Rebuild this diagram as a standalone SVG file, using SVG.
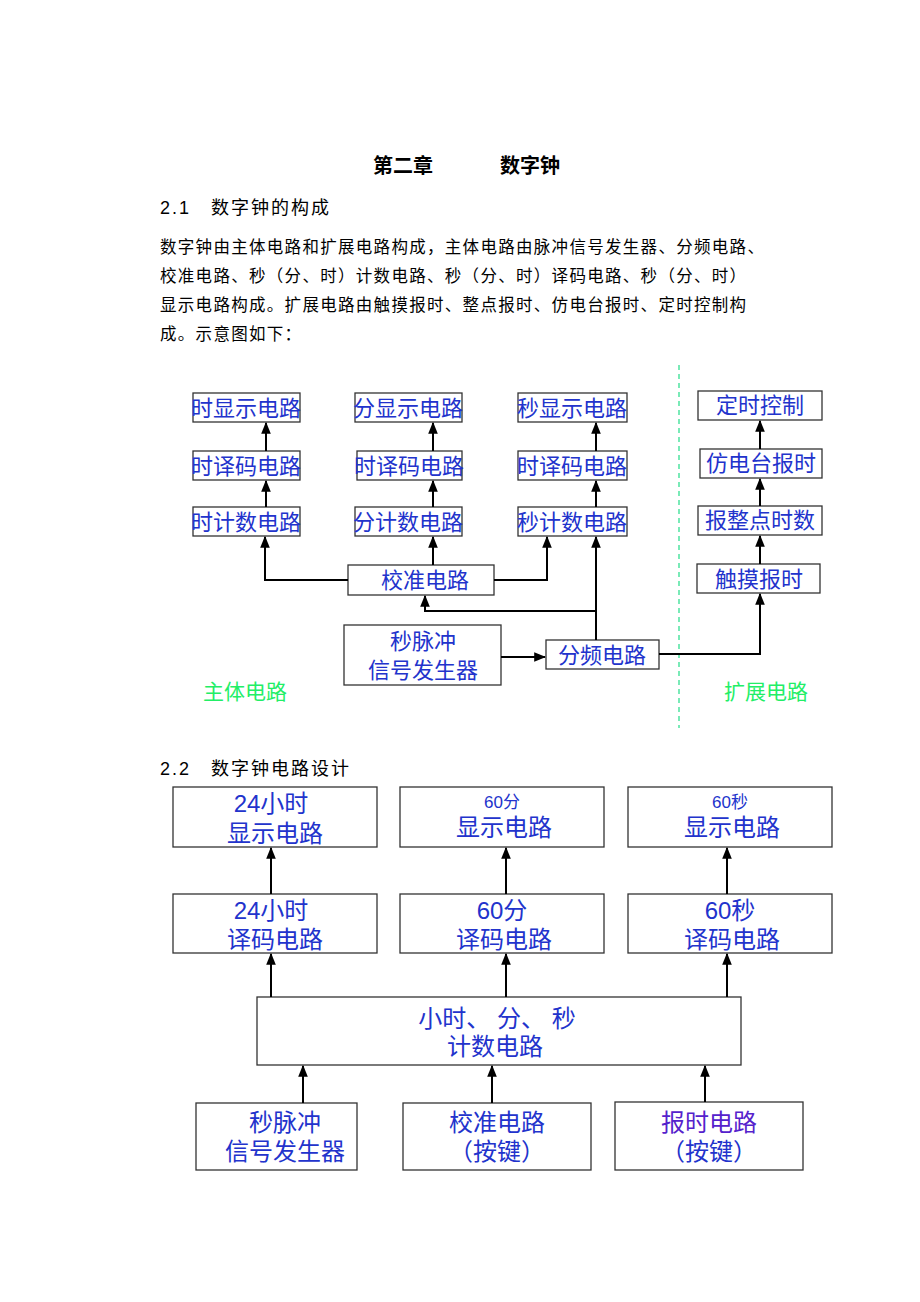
<svg xmlns="http://www.w3.org/2000/svg" width="920" height="1302" viewBox="0 0 920 1302">
<defs>
<marker id="ah" viewBox="0 0 10 10" refX="9" refY="5" markerWidth="6" markerHeight="6" orient="auto"><path d="M0,1 L10,5 L0,9 z" fill="#000"/></marker>
<style>
text{font-family:"Liberation Sans","Noto Sans CJK SC",sans-serif}
.h{font-size:20px;font-weight:bold;fill:#000}
.s{font-size:18px;fill:#000;letter-spacing:2px}
.p{font-size:16.5px;fill:#000;letter-spacing:1.3px}
.b{fill:#fff;stroke:#333;stroke-width:1.3}
.t{font-size:22px;fill:#2233cc;text-anchor:middle}
.t2{font-size:24px;fill:#2233cc;text-anchor:middle}
.sm{font-size:17px;fill:#2233cc;text-anchor:middle}
.g{font-size:21px;fill:#22ee66}
.c{fill:none;stroke:#000;stroke-width:2}
</style>
</defs>
<rect width="920" height="1302" fill="#fff"/>
<text class="h" x="373" y="173">第二章</text><text class="h" x="500" y="173">数字钟</text>
<text class="s" x="160" y="214">2.1　数字钟的构成</text>
<text class="p" x="160" y="253">数字钟由主体电路和扩展电路构成，主体电路由脉冲信号发生器、分频电路、</text>
<text class="p" x="160" y="282">校准电路、秒（分、时）计数电路、秒（分、时）译码电路、秒（分、时）</text>
<text class="p" x="160" y="311">显示电路构成。扩展电路由触摸报时、整点报时、仿电台报时、定时控制构</text>
<text class="p" x="160" y="340">成。示意图如下：</text>
<line x1="679" y1="365" x2="679" y2="728" stroke="#22dd88" stroke-width="1.2" stroke-dasharray="5,4"/>
<text class="g" x="203" y="699">主体电路</text><text class="g" x="724" y="699">扩展电路</text>
<g id="n1"><rect class="b" x="193" y="393" width="107" height="29"/><text class="t" x="246" y="416">时显示电路</text></g>
<g id="n2"><rect class="b" x="355" y="393" width="107" height="29"/><text class="t" x="408" y="416">分显示电路</text></g>
<g id="n3"><rect class="b" x="518" y="393" width="109" height="29"/><text class="t" x="572" y="416">秒显示电路</text></g>
<g id="n4"><rect class="b" x="193" y="451" width="107" height="29"/><text class="t" x="246" y="474">时译码电路</text></g>
<g id="n5"><rect class="b" x="357" y="451" width="105" height="29"/><text class="t" x="409" y="474">时译码电路</text></g>
<g id="n6"><rect class="b" x="518" y="451" width="109" height="29"/><text class="t" x="572" y="474">时译码电路</text></g>
<g id="n7"><rect class="b" x="193" y="507" width="107" height="29"/><text class="t" x="246" y="530">时计数电路</text></g>
<g id="n8"><rect class="b" x="355" y="507" width="107" height="29"/><text class="t" x="408" y="530">分计数电路</text></g>
<g id="n9"><rect class="b" x="518" y="507" width="109" height="29"/><text class="t" x="572" y="530">秒计数电路</text></g>
<g id="n10"><rect class="b" x="348" y="565" width="146" height="30"/><text class="t" x="425" y="588">校准电路</text></g>
<g id="n11"><rect class="b" x="344" y="625" width="157" height="60"/><text class="t" x="423" y="649">秒脉冲</text><text class="t" x="423" y="678">信号发生器</text></g>
<g id="n12"><rect class="b" x="546" y="640" width="113" height="29"/><text class="t" x="602" y="663">分频电路</text></g>
<g id="n13"><rect class="b" x="698" y="391" width="124" height="29"/><text class="t" x="760" y="413">定时控制</text></g>
<g id="n14"><rect class="b" x="700" y="449" width="122" height="29"/><text class="t" x="761" y="471">仿电台报时</text></g>
<g id="n15"><rect class="b" x="698" y="506" width="124" height="29"/><text class="t" x="760" y="528">报整点时数</text></g>
<g id="n16"><rect class="b" x="697" y="564" width="123" height="29"/><text class="t" x="759" y="587">触摸报时</text></g>
<text class="s" x="160" y="775">2.2　数字钟电路设计</text>
<g id="m1"><rect class="b" x="173" y="787" width="204" height="60"/><text class="t2" x="271" y="812">24小时</text><text class="t2" x="275" y="842">显示电路</text></g>
<g id="m2"><rect class="b" x="400" y="787" width="204" height="60"/><text class="sm" x="502" y="808">60分</text><text class="t2" x="504" y="836">显示电路</text></g>
<g id="m3"><rect class="b" x="628" y="787" width="204" height="60"/><text class="sm" x="730" y="808">60秒</text><text class="t2" x="732" y="836">显示电路</text></g>
<g id="m4"><rect class="b" x="173" y="894" width="204" height="59"/><text class="t2" x="271" y="919">24小时</text><text class="t2" x="275" y="948">译码电路</text></g>
<g id="m5"><rect class="b" x="400" y="894" width="204" height="59"/><text class="t2" x="502" y="919">60分</text><text class="t2" x="504" y="948">译码电路</text></g>
<g id="m6"><rect class="b" x="628" y="894" width="204" height="59"/><text class="t2" x="730" y="919">60秒</text><text class="t2" x="732" y="948">译码电路</text></g>
<g id="m7"><rect class="b" x="257" y="997" width="484" height="68"/><text class="t2" x="497" y="1027" xml:space="preserve">小时、 分、 秒</text><text class="t2" x="495" y="1055">计数电路</text></g>
<g id="m8"><rect class="b" x="196" y="1103" width="161" height="67"/><text class="t2" x="285" y="1131">秒脉冲</text><text class="t2" x="285" y="1160">信号发生器</text></g>
<g id="m9"><rect class="b" x="403" y="1103" width="188" height="67"/><text class="t2" x="497" y="1131">校准电路</text><text class="t2" x="497" y="1160">（按键）</text></g>
<g id="m10"><rect class="b" x="615" y="1102" width="188" height="68"/><text class="t2" x="709" y="1131" style="fill:#5522cc">报时电路</text><text class="t2" x="709" y="1160">（按键）</text></g>
<g id="connectors">
<path class="c" d="M266,451 V423" marker-end="url(#ah)"/>
<path class="c" d="M433,451 V423" marker-end="url(#ah)"/>
<path class="c" d="M596,451 V423" marker-end="url(#ah)"/>
<path class="c" d="M266,507 V481" marker-end="url(#ah)"/>
<path class="c" d="M433,507 V481" marker-end="url(#ah)"/>
<path class="c" d="M596,507 V481" marker-end="url(#ah)"/>
<path class="c" d="M348,580 H265 V537" marker-end="url(#ah)"/>
<path class="c" d="M494,580 H547 V537" marker-end="url(#ah)"/>
<path class="c" d="M433,565 V537" marker-end="url(#ah)"/>
<path class="c" d="M596,640 V537" marker-end="url(#ah)"/>
<path class="c" d="M596,611 H425 V596" marker-end="url(#ah)"/>
<path class="c" d="M501,657 H545" marker-end="url(#ah)"/>
<path class="c" d="M659,654 H760 V594" marker-end="url(#ah)"/>
<path class="c" d="M760,564 V536" marker-end="url(#ah)"/>
<path class="c" d="M760,506 V479" marker-end="url(#ah)"/>
<path class="c" d="M760,449 V421" marker-end="url(#ah)"/>
<path class="c" d="M271,894 V848" marker-end="url(#ah)"/>
<path class="c" d="M506,894 V848" marker-end="url(#ah)"/>
<path class="c" d="M727,894 V848" marker-end="url(#ah)"/>
<path class="c" d="M271,997 V954" marker-end="url(#ah)"/>
<path class="c" d="M506,997 V954" marker-end="url(#ah)"/>
<path class="c" d="M727,997 V954" marker-end="url(#ah)"/>
<path class="c" d="M303,1103 V1066" marker-end="url(#ah)"/>
<path class="c" d="M492,1103 V1066" marker-end="url(#ah)"/>
<path class="c" d="M705,1102 V1066" marker-end="url(#ah)"/>
</g>
</svg>
